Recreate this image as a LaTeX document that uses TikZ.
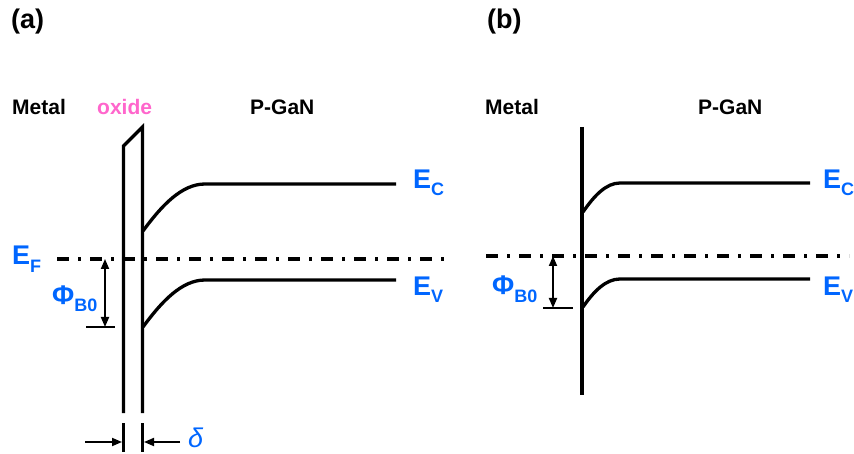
\documentclass[tikz,border=0pt]{standalone}
\usepackage{fontspec}
\setmainfont{Liberation Sans}
\usetikzlibrary{arrows.meta}
\definecolor{eblue}{RGB}{0,102,255}
\definecolor{opink}{RGB}{255,102,204}
\newcommand{\fs}[1]{\fontsize{#1}{#1}\selectfont}
\newcommand{\lvl}[2]{\fs{27}E\raisebox{-7pt}{\fs{18}#2}}
\begin{document}
\begin{tikzpicture}[x=1pt,y=-1pt,
  band/.style={line width=3.3pt},
  wall/.style={line width=3.3pt,line join=miter},
  fermi/.style={line width=3.6pt,dash pattern=on 12pt off 9pt on 3pt off 9pt},
  dimarrow/.style={line width=1.8pt,-{Triangle[length=10pt,width=8pt]}},
  dimboth/.style={line width=1.8pt,{Triangle[length=10pt,width=8pt]}-{Triangle[length=10pt,width=8pt]}},
  tick/.style={line width=1.8pt},
  lbl/.style={inner sep=0pt,anchor=base west,font=\bfseries\fs{21}},
  head/.style={inner sep=0pt,anchor=base west,font=\bfseries\fs{27}},
  elbl/.style={inner sep=0pt,anchor=base west,font=\bfseries,text=eblue}]
\useasboundingbox (0,0) rectangle (854,454);
% ---------- panel (a) ----------
\node[head] (ta) at (11,29) {(a)};
\node[lbl] (metala) at (12,115) {Metal};
\node[lbl,text=opink] (oxide) at (97,115) {oxide};
\node[lbl] (gana) at (250,115) {P-GaN};
% oxide layer
\coordinate (oxbl) at (123.5,413);
\coordinate (oxtl) at (123.5,146);
\coordinate (oxtr) at (142.5,127);
\coordinate (oxbr) at (142.5,413);
\draw[wall] (oxbl) -- (oxtl) -- (oxtr) -- (oxbr);
% bands
\coordinate (eca0) at (143,231);
\coordinate (eca1) at (205,184);
\coordinate (eca2) at (396,184);
\draw[band] (eca0) .. controls (162,205) and (182,184) .. (eca1) -- (eca2);
\coordinate (eva0) at (143,327);
\coordinate (eva1) at (205,280);
\coordinate (eva2) at (396,280);
\draw[band] (eva0) .. controls (162,301) and (182,280) .. (eva1) -- (eva2);
% Fermi level
\coordinate (efa0) at (57,259);
\coordinate (efa1) at (449,259);
\draw[fermi] (efa0) -- (efa1);
% barrier height
\coordinate (pha0) at (105,259);
\coordinate (pha1) at (105,327);
\draw[dimboth] (pha0) -- (pha1);
\coordinate (tka0) at (86,327);
\coordinate (tka1) at (115,327);
\draw[tick] (tka0) -- (tka1);
% delta
\coordinate (dl0) at (123.5,423);
\coordinate (dl1) at (123.5,452);
\coordinate (dr0) at (142.5,423);
\coordinate (dr1) at (142.5,452);
\draw[wall] (dl0) -- (dl1);
\draw[wall] (dr0) -- (dr1);
\coordinate (al) at (85,442);
\coordinate (ar) at (180,442);
\draw[dimarrow] (al) -- (122,442);
\draw[dimarrow] (ar) -- (144,442);
\node[inner sep=0pt,anchor=base west,text=eblue,font=\itshape\fs{27}] (delta) at (188,447) {δ};
% labels
\node[elbl] (eca) at (413,189) {\lvl{27}{C}};
\node[elbl] (eva) at (413,296) {\lvl{27}{V}};
\node[elbl] (efa) at (12,265) {\fs{27}E\raisebox{-8pt}{\fs{18}F}};
\node[elbl] (phia) at (52,305) {\fs{27}Φ\raisebox{-7pt}{\fs{18}B0}};
% ---------- panel (b) ----------
\node[head] (tb) at (487,29) {(b)};
\node[lbl] (metalb) at (485,115) {Metal};
\node[lbl] (ganb) at (698,115) {P-GaN};
\coordinate (wb0) at (582,127);
\coordinate (wb1) at (582,395);
\draw[wall] (wb0) -- (wb1);
\coordinate (ecb0) at (583,212);
\coordinate (ecb1) at (620,183);
\coordinate (ecb2) at (810,183);
\draw[band] (ecb0) .. controls (594,196) and (606,183) .. (ecb1) -- (ecb2);
\coordinate (evb0) at (583,307);
\coordinate (evb1) at (620,279);
\coordinate (evb2) at (810,279);
\draw[band] (evb0) .. controls (594,291) and (606,279) .. (evb1) -- (evb2);
\coordinate (efb0) at (486,256);
\coordinate (efb1) at (849,256);
\draw[fermi] (efb0) -- (efb1);
\coordinate (phb0) at (553,256);
\coordinate (phb1) at (553,308);
\draw[dimboth] (phb0) -- (phb1);
\coordinate (tkb0) at (543,308);
\coordinate (tkb1) at (573,308);
\draw[tick] (tkb0) -- (tkb1);
\node[elbl] (ecb) at (823,189) {\lvl{27}{C}};
\node[elbl] (evb) at (823,296) {\lvl{27}{V}};
\node[elbl] (phib) at (492,295) {\fs{27}Φ\raisebox{-7pt}{\fs{18}B0}};
\end{tikzpicture}
\end{document}
